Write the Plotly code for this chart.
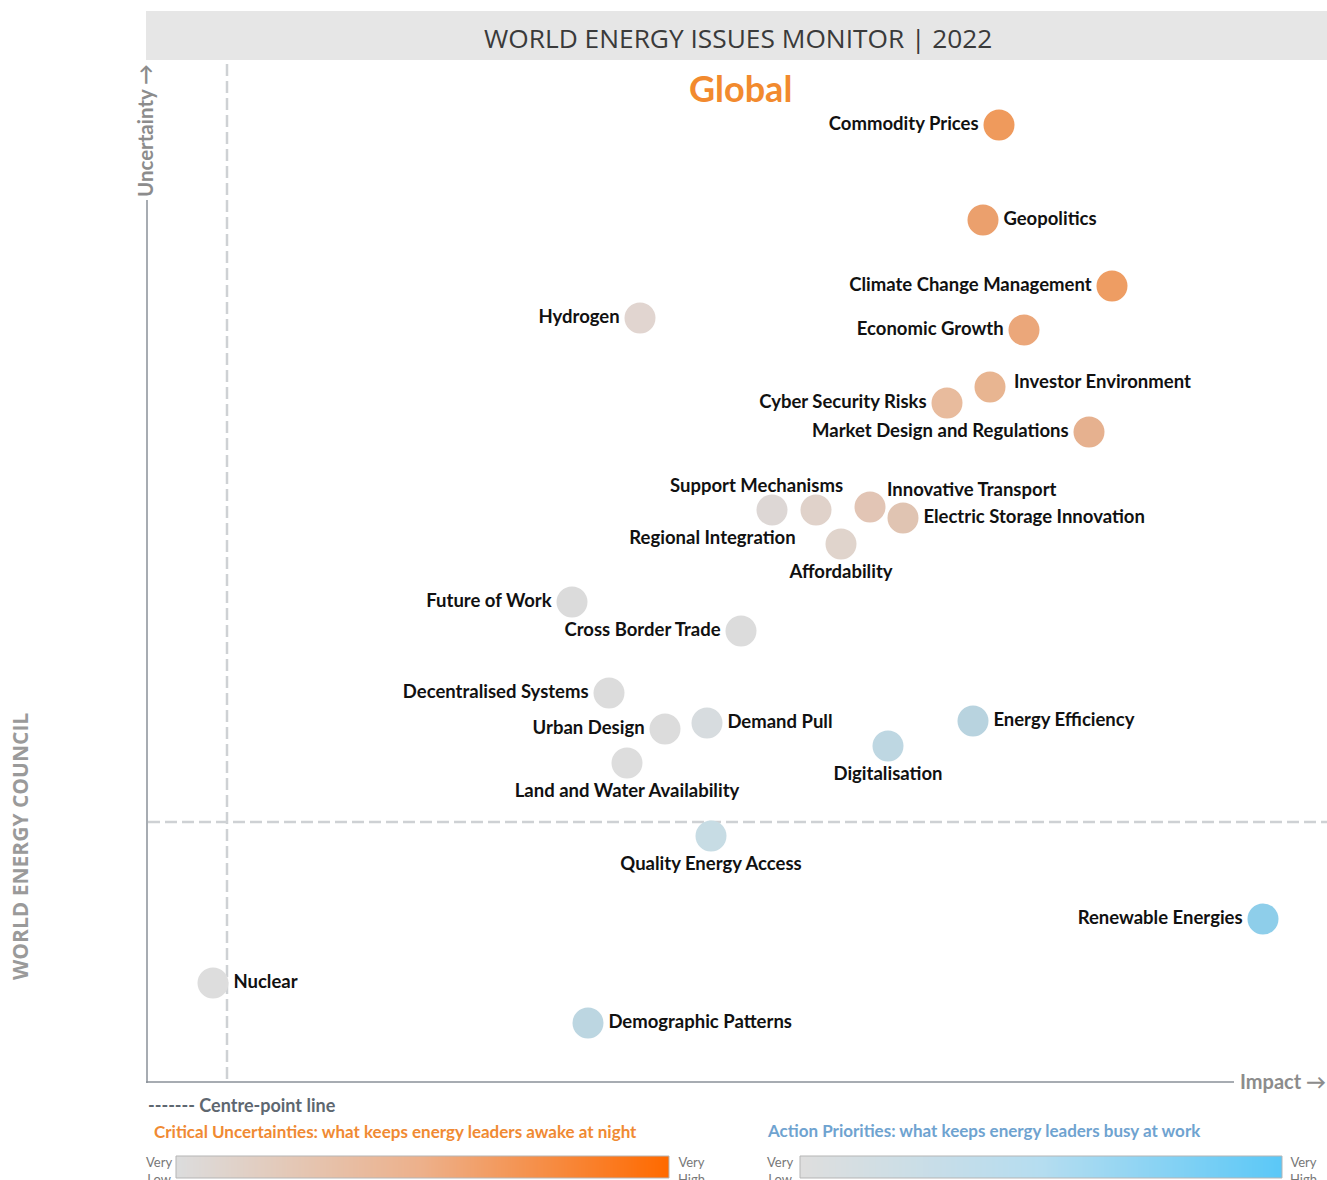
import plotly.graph_objects as go

W, H = 1327, 1180

# ---------------- data ----------------
issues = [
    "Commodity Prices", "Geopolitics", "Climate Change Management", "Economic Growth",
    "Investor Environment", "Cyber Security Risks", "Market Design and Regulations",
    "Hydrogen", "Support Mechanisms", "Regional Integration", "Innovative Transport",
    "Electric Storage Innovation", "Affordability", "Future of Work", "Cross Border Trade",
    "Decentralised Systems", "Urban Design", "Demand Pull", "Land and Water Availability",
    "Digitalisation", "Energy Efficiency", "Quality Energy Access", "Renewable Energies",
    "Nuclear", "Demographic Patterns",
]
impact = [852, 836, 965, 877, 843, 800, 942, 493, 625, 669, 723, 756, 694, 425, 594,
          462, 518, 560, 480, 741, 826, 564, 1116, 66, 441]
uncertainty = [957, 862, 796, 752, 695, 679, 650, 764, 572, 572, 575, 564, 538, 480, 451,
               389, 353, 359, 319, 336, 361, 246, 163, 99, 59]
centre_impact = 80
centre_uncertainty = 260

# ---------------- styles ----------------
colors = [
    "#EF9A5C", "#EBA06D", "#EE9D63", "#EBA77A", "#E8B591", "#E8BB9D", "#E6B18F",
    "#E1D5D0", "#DDD7D5", "#E0D2CA", "#E2C5B5", "#E0C4B2", "#E0D4CC", "#DBDBDB",
    "#DCDCDC", "#DCDCDC", "#DCDCDC", "#D7DCDF", "#DDDDDD", "#BED7E2", "#B8D3DF",
    "#C7DCE4", "#8ECEEA", "#DDDDDD", "#BCD6E1",
]
# label placement: plotly textposition, or (xanchor, xshift, yshift) for custom placement
positions = [
    "middle left", "middle right", "middle left", "middle left", ("left", 22, 6),
    "middle left", "middle left", "middle left", ("center", -16, 25), "bottom left",
    ("left", 15, 18), "middle right", "bottom center", "middle left", "middle left",
    "middle left", "middle left", "middle right", "bottom center", "bottom center",
    "middle right", "bottom center", "middle left", "middle right", "middle right",
]

LABEL_FONT = dict(family="Lato", size=18.5, color="#111111", weight="bold")


def px(x):
    return x / W


def py(y):
    return 1 - y / H


X0, X1 = 147, 1327
Y0, Y1 = 60, 1082

fig = go.Figure()

trace_text = [n if isinstance(p, str) else "" for n, p in zip(issues, positions)]
trace_pos = [p if isinstance(p, str) else "middle center" for p in positions]

fig.add_trace(go.Scatter(
    x=impact, y=uncertainty, mode="markers+text", text=trace_text,
    textposition=trace_pos,
    marker=dict(size=31, color=colors, line=dict(width=0), opacity=1),
    textfont=LABEL_FONT,
    hovertext=issues, hoverinfo="text", cliponaxis=False, showlegend=False,
))

# gradient legend bars
fig.add_trace(go.Heatmap(
    z=[list(range(100))], colorscale=[[0, "#DCDCDC"], [0.5, "#EDB08A"], [1, "#FF6A00"]],
    showscale=False, xaxis="x2", yaxis="y2", zsmooth="best", hoverinfo="skip"))
fig.add_trace(go.Heatmap(
    z=[list(range(100))], colorscale=[[0, "#DEDEDE"], [0.5, "#B5DDF0"], [1, "#5BC8F7"]],
    showscale=False, xaxis="x3", yaxis="y3", zsmooth="best", hoverinfo="skip"))

hidden = dict(visible=False, showgrid=False, zeroline=False, fixedrange=True)

fig.update_layout(
    width=W, height=H, autosize=False,
    margin=dict(l=0, r=0, t=0, b=0),
    paper_bgcolor="white", plot_bgcolor="white",
    xaxis=dict(domain=[px(X0), px(X1)], range=[0, X1 - X0], **hidden),
    yaxis=dict(domain=[py(Y1), py(Y0)], range=[0, Y1 - Y0], **hidden),
    xaxis2=dict(domain=[px(176), px(669)], range=[-0.5, 99.5], **hidden),
    yaxis2=dict(domain=[py(1178), py(1156)], range=[-0.5, 0.5], **hidden),
    xaxis3=dict(domain=[px(800), px(1282)], range=[-0.5, 99.5], **hidden),
    yaxis3=dict(domain=[py(1178), py(1156)], range=[-0.5, 0.5], **hidden),
)

shapes = []
# title bar
shapes.append(dict(type="rect", xref="paper", yref="paper", x0=px(146), x1=1,
                   y0=py(60), y1=py(11), fillcolor="#E6E6E6", line=dict(width=0), layer="below"))
# axis lines
shapes.append(dict(type="line", xref="paper", yref="paper", x0=px(147), x1=px(147),
                   y0=py(200), y1=py(1083), line=dict(color="#8A9199", width=1.5)))
shapes.append(dict(type="line", xref="paper", yref="paper", x0=px(146), x1=px(1234),
                   y0=py(1082), y1=py(1082), line=dict(color="#8A9199", width=1.5)))
# centre-point lines
shapes.append(dict(type="line", xref="x", yref="paper", x0=centre_impact, x1=centre_impact,
                   y0=py(64), y1=py(1081), line=dict(color="#CED1D4", width=2.5, dash="12px,5px"),
                   layer="below"))
shapes.append(dict(type="line", xref="paper", yref="y", x0=px(148), x1=1,
                   y0=centre_uncertainty, y1=centre_uncertainty,
                   line=dict(color="#CED1D4", width=2.5, dash="12px,5px"), layer="below"))
# legend bar borders
for a, b in [(176, 669), (800, 1282)]:
    shapes.append(dict(type="rect", xref="paper", yref="paper", x0=px(a), x1=px(b),
                       y0=py(1178), y1=py(1156), line=dict(color="#B5B5B5", width=1)))
fig.update_layout(shapes=shapes)

ann = []

# custom-placed bubble labels
for n, p, xi, yi in zip(issues, positions, impact, uncertainty):
    if not isinstance(p, str):
        xa, xs, ys = p
        ann.append(dict(text=n, x=xi, y=yi, xref="x", yref="y", showarrow=False,
                        xanchor=xa, yanchor="middle", xshift=xs, yshift=ys, font=LABEL_FONT))


def A(text, x, y, size, color, xanchor="center", yanchor="middle", textangle=0,
      family="Lato", weight="normal"):
    ann.append(dict(text=text, x=px(x), y=py(y), xref="paper", yref="paper",
                    showarrow=False, xanchor=xanchor, yanchor=yanchor, textangle=textangle,
                    font=dict(family=family, size=size, color=color, weight=weight)))


A("WORLD ENERGY ISSUES MONITOR | 2022", 738, 38, 26.3, "#3A3A3A", family="Open Sans")
A("Global", 741, 88, 36, "#F28A2E", weight="bold")
A("Uncertainty \u2192", 145, 131, 20.5, "#8C8C8C", textangle=-90, weight="bold")
A("Impact \u2192", 1283, 1081, 20, "#8C8C8C", weight="bold")
A("WORLD ENERGY COUNCIL", 20, 847, 21, "#9A9A9A", textangle=-90, family="Open Sans",
  weight="bold")
A("------- Centre-point line", 146, 1105, 18, "#5E6770", xanchor="left", weight="bold")
A("Critical Uncertainties: what keeps energy leaders awake at night", 152, 1131, 17,
  "#F08A33", xanchor="left", weight="bold")
A("Action Priorities: what keeps energy leaders busy at work", 765, 1130, 17,
  "#6FA3D0", xanchor="left", weight="bold")
for x, anchor in [(174, "right"), (676, "left"), (795, "right"), (1288, "left")]:
    txt = "Very<br>Low" if anchor == "right" else "Very<br>High"
    A(txt, x, 1152, 13, "#777777", xanchor=anchor, yanchor="top")

fig.update_layout(annotations=ann)

fig.write_html("out.html", config={"displayModeBar": False},
               post_script="document.body.style.margin='0';")
